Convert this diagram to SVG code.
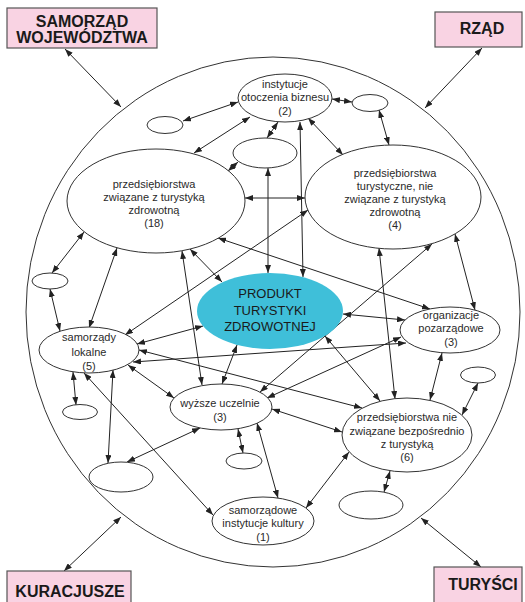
<svg xmlns="http://www.w3.org/2000/svg" width="525" height="602" viewBox="0 0 525 602">
<defs>
<marker id="ah" viewBox="0 0 8 6" refX="8" refY="3" markerWidth="8" markerHeight="6" markerUnits="userSpaceOnUse" orient="auto-start-reverse"><path d="M0,0 L8,3 L0,6 z" fill="#222"/></marker>
<style>
.n{fill:#fff;stroke:#333;stroke-width:1}
.c{stroke:#222;stroke-width:1;fill:none;marker-start:url(#ah);marker-end:url(#ah)}
.t{font-family:"Liberation Sans",Arial,sans-serif;font-size:11px;fill:#2a2a2a;text-anchor:middle}
.p{font-family:"Liberation Sans",Arial,sans-serif;font-size:13px;fill:#1a1a1a;text-anchor:middle}
.b{fill:#f9d3e3;stroke:#555;stroke-width:1.2}
.bt{font-family:"Liberation Sans",Arial,sans-serif;font-size:16px;font-weight:bold;fill:#1a1a1a;text-anchor:middle}
</style>
</defs>
<rect width="525" height="602" fill="#fff"/>
<ellipse id="outer" cx="273" cy="312" rx="247" ry="255" fill="none" stroke="#333" stroke-width="1"/>

<g id="connectors">
<line class="c" x1="65" y1="49" x2="121" y2="107"/>
<line class="c" x1="482" y1="48" x2="425" y2="108"/>
<line class="c" x1="64" y1="571" x2="121" y2="517"/>
<line class="c" x1="481" y1="567" x2="421" y2="518"/>

<line class="c" x1="238" y1="102" x2="183" y2="121"/>
<line class="c" x1="250" y1="117" x2="194" y2="153"/>
<line class="c" x1="278" y1="122" x2="267" y2="138"/>
<line class="c" x1="332" y1="99" x2="352" y2="102"/>
<line class="c" x1="308" y1="118" x2="343" y2="155"/>
<line class="c" x1="300" y1="122" x2="303" y2="277"/>
<line class="c" x1="268" y1="168" x2="268" y2="273"/>
<line class="c" x1="228" y1="171" x2="238" y2="162"/>
<line class="c" x1="245" y1="198" x2="305" y2="198"/>
<line class="c" x1="308" y1="210" x2="125" y2="335"/>
<line class="c" x1="379" y1="110" x2="389" y2="145"/>
<line class="c" x1="84" y1="232" x2="52" y2="273"/>
<line class="c" x1="50" y1="289" x2="60" y2="331"/>
<line class="c" x1="117" y1="248" x2="89" y2="328"/>
<line class="c" x1="182" y1="251" x2="202" y2="385"/>
<line class="c" x1="190" y1="249" x2="222" y2="282"/>
<line class="c" x1="218" y1="238" x2="430" y2="309"/>
<line class="c" x1="137" y1="344" x2="203" y2="326"/>
<line class="c" x1="139" y1="350" x2="362" y2="408"/>
<line class="c" x1="133" y1="362" x2="406" y2="343"/>
<line class="c" x1="325" y1="336" x2="380" y2="401"/>
<line class="c" x1="379" y1="248" x2="395" y2="399"/>
<line class="c" x1="455" y1="234" x2="475" y2="310"/>
<line class="c" x1="343" y1="314" x2="405" y2="320"/>
<line class="c" x1="432" y1="244" x2="260" y2="392"/>
<line class="c" x1="401" y1="337" x2="267" y2="398"/>
<line class="c" x1="237" y1="345" x2="222" y2="384"/>
<line class="c" x1="128" y1="365" x2="174" y2="398"/>
<line class="c" x1="272" y1="409" x2="342" y2="432"/>
<line class="c" x1="238" y1="429" x2="243" y2="453"/>
<line class="c" x1="257" y1="423" x2="278" y2="498"/>
<line class="c" x1="200" y1="428" x2="127" y2="462"/>
<line class="c" x1="113" y1="370" x2="108" y2="463"/>
<line class="c" x1="73" y1="372" x2="76" y2="405"/>
<line class="c" x1="84" y1="373" x2="213" y2="515"/>
<line class="c" x1="349" y1="452" x2="306" y2="508"/>
<line class="c" x1="390" y1="471" x2="384" y2="492"/>
<line class="c" x1="442" y1="353" x2="430" y2="400"/>
<line class="c" x1="478" y1="383" x2="462" y2="415"/>
</g>

<g id="box-samorzad-wojewodztwa"><rect class="b" x="7" y="8" width="150" height="40"/><text class="bt" x="82" y="27">SAMORZĄD</text><text class="bt" x="82" y="43">WOJEWÓDZTWA</text></g>
<g id="box-rzad"><rect class="b" x="435" y="12" width="87" height="35"/><text class="bt" x="482" y="34">RZĄD</text></g>
<g id="box-kuracjusze"><rect class="b" x="7" y="571" width="124" height="40"/><text class="bt" x="70" y="597">KURACJUSZE</text></g>
<g id="box-turysci"><rect class="b" x="434" y="567" width="88" height="40"/><text class="bt" x="483" y="590">TURYŚCI</text></g>

<g id="n-iob"><ellipse class="n" cx="285" cy="98" rx="47" ry="24"/><text class="t" x="285" y="88">instytucje</text><text class="t" x="285" y="101">otoczenia biznesu</text><text class="t" x="285" y="115">(2)</text></g>
<g id="e-small-1"><ellipse class="n" cx="370" cy="103" rx="18" ry="8.5"/></g>
<g id="e-small-2"><ellipse class="n" cx="165" cy="125" rx="18" ry="8.5"/></g>
<g id="e-mid-1"><ellipse class="n" cx="265" cy="153" rx="32" ry="15"/></g>
<g id="n-pztz"><ellipse class="n" cx="156" cy="201" rx="89" ry="52"/><text class="t" x="154" y="188">przedsiębiorstwa</text><text class="t" x="154" y="201">związane z turystyką</text><text class="t" x="154" y="214">zdrowotną</text><text class="t" x="154" y="227">(18)</text></g>
<g id="n-ptn"><ellipse class="n" cx="393" cy="197" rx="88" ry="52"/><text class="t" x="395" y="177">przedsiębiorstwa</text><text class="t" x="395" y="190">turystyczne, nie</text><text class="t" x="395" y="203">związane z turystyką</text><text class="t" x="395" y="216">zdrowotną</text><text class="t" x="395" y="229">(4)</text></g>
<g id="e-small-3"><ellipse class="n" cx="50" cy="281" rx="18" ry="8"/></g>
<g id="n-produkt"><ellipse cx="270" cy="311" rx="73" ry="38" fill="#3fbfd9"/><text class="p" x="270" y="298">PRODUKT</text><text class="p" x="270" y="315">TURYSTYKI</text><text class="p" x="270" y="331">ZDROWOTNEJ</text></g>
<g id="n-org"><ellipse class="n" cx="450" cy="330" rx="50" ry="23"/><text class="t" x="451" y="319">organizacje</text><text class="t" x="451" y="332">pozarządowe</text><text class="t" x="451" y="346">(3)</text></g>
<g id="e-small-4"><ellipse class="n" cx="478" cy="375" rx="17.5" ry="8"/></g>
<g id="n-samlok"><ellipse class="n" cx="89" cy="350" rx="50" ry="23"/><text class="t" x="89" y="341">samorządy</text><text class="t" x="89" y="356">lokalne</text><text class="t" x="89" y="370">(5)</text></g>
<g id="e-small-5"><ellipse class="n" cx="80" cy="412" rx="17.5" ry="7.5"/></g>
<g id="e-mid-2"><ellipse class="n" cx="121" cy="477" rx="32" ry="15"/></g>
<g id="n-wu"><ellipse class="n" cx="221" cy="407" rx="51" ry="23"/><text class="t" x="220" y="407">wyższe uczelnie</text><text class="t" x="220" y="421">(3)</text></g>
<g id="e-small-6"><ellipse class="n" cx="244" cy="461" rx="18" ry="8"/></g>
<g id="n-sik"><ellipse class="n" cx="263" cy="521" rx="51" ry="24"/><text class="t" x="263" y="514">samorządowe</text><text class="t" x="263" y="527">instytucje kultury</text><text class="t" x="263" y="541">(1)</text></g>
<g id="n-pnz"><ellipse class="n" cx="407" cy="435" rx="65" ry="37"/><text class="t" x="407" y="421">przedsiębiorstwa nie</text><text class="t" x="407" y="435">związane bezpośrednio</text><text class="t" x="407" y="448">z turystyką</text><text class="t" x="407" y="461">(6)</text></g>
<g id="e-mid-3"><ellipse class="n" cx="371" cy="505" rx="32" ry="14"/></g>
</svg>
